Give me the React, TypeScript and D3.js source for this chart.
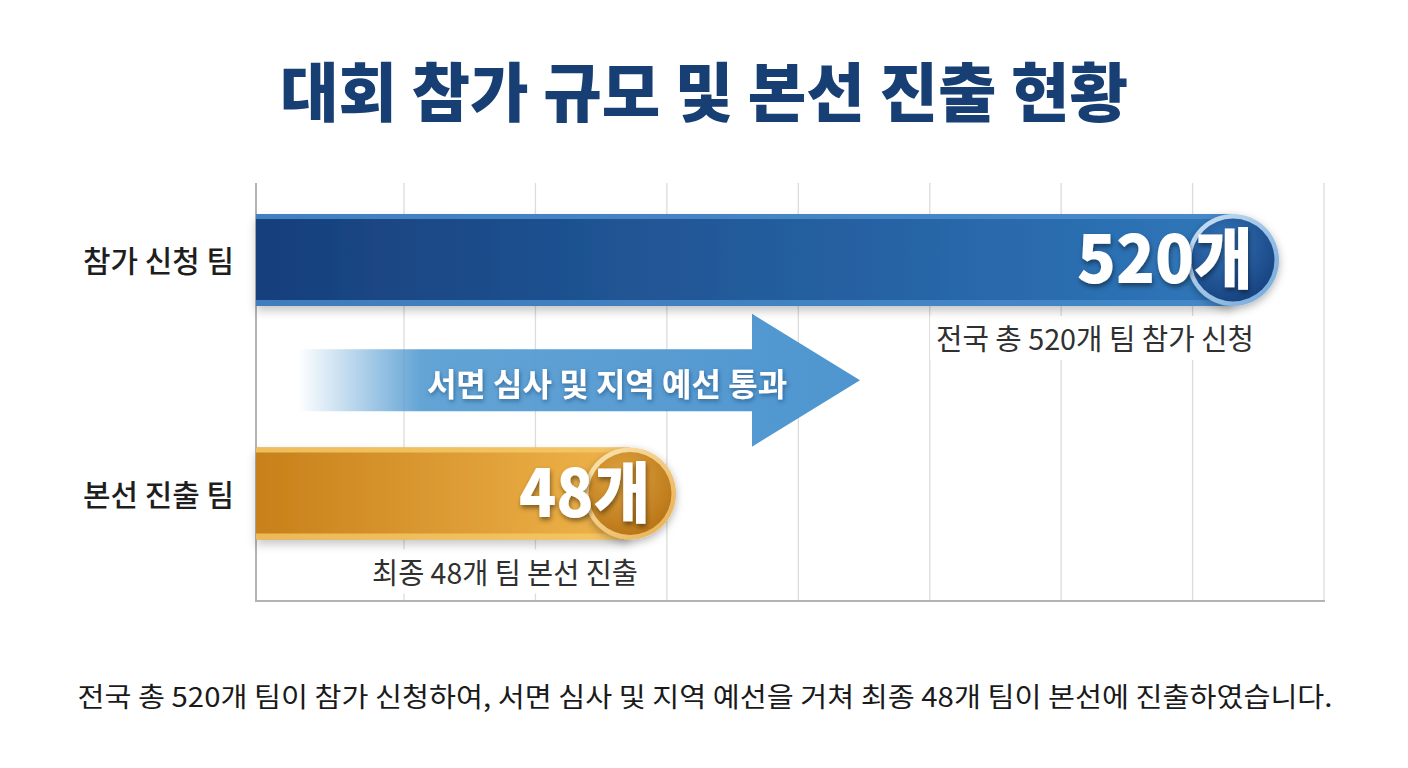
import React from "react";
import * as d3 from "d3";

const title = "대회 참가 규모 및 본선 진출 현황";
const categories = ["참가 신청 팀", "본선 진출 팀"];
const values = [520, 48];
const unit = "개";
const captions = ["전국 총 520개 팀 참가 신청", "최종 48개 팀 본선 진출"];
const stepLabel = "서면 심사 및 지역 예선 통과";
const footer =
  "전국 총 520개 팀이 참가 신청하여, 서면 심사 및 지역 예선을 거쳐 최종 48개 팀이 본선에 진출하였습니다.";
const gridTicks = [1, 2, 3, 4, 5, 6, 7, 8];

const W = 1408;
const H = 768;
const FONT = "'Noto Sans CJK KR', 'Noto Sans', sans-serif";

export default function App() {
  const x = d3.scalePow().exponent(0.403).domain([0, 520]).range([256, 1233]);
  const y = d3.scalePoint<string>().domain(categories).range([260, 493.5]);
  const grid = d3.scaleLinear().domain([0, 8]).range([272.6, 1324]);
  const barH = 92;
  const r = 46;
  const plotTop = 183;
  const plotBottom = 601;
  const x0 = x(0);

  const themes = [
    { id: "blue", c0: "#173f7c", c1: "#2f77ba", edge: "#4a8ccc", ringA: "#cfe3f5", ringB: "#6fa6d8", in0: "#3474b8", in1: "#16417f", capDx: 21, capW: 318, numW: 176 },
    { id: "gold", c0: "#c8801a", c1: "#f0b54c", edge: "#f5c867", ringA: "#fbe7b5", ringB: "#e7ae4f", in0: "#e0a43f", in1: "#b87416", capDx: 8, capW: 266, numW: 131 },
  ];

  // arrow geometry
  const aY = (y(categories[0])! + y(categories[1])!) / 2 + 3.5;
  const shaftHalf = 31;
  const headHalf = 66.5;
  const aStart = 298;
  const headX = 752;
  const tipX = 860;
  const arrowPath = d3.path();
  arrowPath.moveTo(aStart, aY - shaftHalf);
  arrowPath.lineTo(headX, aY - shaftHalf);
  arrowPath.lineTo(headX, aY - headHalf);
  arrowPath.lineTo(tipX, aY);
  arrowPath.lineTo(headX, aY + headHalf);
  arrowPath.lineTo(headX, aY + shaftHalf);
  arrowPath.lineTo(aStart, aY + shaftHalf);
  arrowPath.closePath();

  return (
    <svg width={W} height={H} style={{ position: "absolute", left: 0, top: 0, background: "#fff" }} fontFamily={FONT}>
      <defs>
        {themes.map((t) => (
          <React.Fragment key={t.id}>
            <linearGradient id={`bar-${t.id}`} x1="0" x2="1" y1="0" y2="0">
              <stop offset="0%" stopColor={t.c0} />
              <stop offset="100%" stopColor={t.c1} />
            </linearGradient>
            <radialGradient id={`in-${t.id}`} cx="40%" cy="30%" r="75%">
              <stop offset="0%" stopColor={t.in0} />
              <stop offset="100%" stopColor={t.in1} />
            </radialGradient>
            <linearGradient id={`ring-${t.id}`} x1="0" x2="1" y1="0" y2="1">
              <stop offset="0%" stopColor={t.ringA} />
              <stop offset="100%" stopColor={t.ringB} />
            </linearGradient>
          </React.Fragment>
        ))}
        <linearGradient id="arrowGrad" gradientUnits="userSpaceOnUse" x1={aStart} x2={tipX} y1="0" y2="0">
          <stop offset="0%" stopColor="#5b9fd3" stopOpacity="0" />
          <stop offset="22%" stopColor="#5b9fd3" stopOpacity="0.95" />
          <stop offset="100%" stopColor="#4e95cf" stopOpacity="1" />
        </linearGradient>
        <filter id="barShadow" x="-5%" y="-20%" width="110%" height="160%">
          <feDropShadow dx="0" dy="5" stdDeviation="5" floodColor="#000" floodOpacity="0.22" />
        </filter>
        <filter id="circShadow" x="-30%" y="-30%" width="160%" height="160%">
          <feDropShadow dx="0" dy="3" stdDeviation="4" floodColor="#000" floodOpacity="0.3" />
        </filter>
        <filter id="txtShadow" x="-10%" y="-20%" width="120%" height="150%">
          <feDropShadow dx="1" dy="3" stdDeviation="2.5" floodColor="#000" floodOpacity="0.45" />
        </filter>
        <filter id="txtShadowSoft" x="-10%" y="-20%" width="120%" height="150%">
          <feDropShadow dx="1" dy="2" stdDeviation="2" floodColor="#0b2f5a" floodOpacity="0.5" />
        </filter>
      </defs>

      {/* title */}
      <text x={W / 2} y={116} textAnchor="middle" fontSize={64} fontWeight={900} fill="#173f73"
        textLength={848} lengthAdjust="spacingAndGlyphs">{title}</text>

      {/* grid */}
      {gridTicks.map((t) => (
        <line key={t} x1={grid(t)} x2={grid(t)} y1={plotTop} y2={plotBottom} stroke="#dcdcdc" strokeWidth={1.3} />
      ))}
      <line x1={x0} x2={x0} y1={plotTop} y2={plotBottom + 1} stroke="#b3b3b3" strokeWidth={2} />
      <line x1={x0} x2={1325} y1={plotBottom} y2={plotBottom} stroke="#b3b3b3" strokeWidth={2} />

      {/* captions (with white backing) */}
      {categories.map((c, i) => {
        const t = themes[i];
        const cy = y(c)!;
        const xe = x(values[i]) + t.capDx;
        const by = cy + barH / 2 + 44;
        return (
          <g key={`cap-${c}`}>
            <rect x={xe - t.capW - 6} y={by - 34} width={t.capW + 12} height={44} fill="#fff" />
            <text x={xe} y={by} textAnchor="end" fontSize={29} fontWeight={400} fill="#303030"
              textLength={t.capW} lengthAdjust="spacingAndGlyphs">{captions[i]}</text>
          </g>
        );
      })}

      {/* arrow */}
      <path d={arrowPath.toString()} fill="url(#arrowGrad)" />
      <text x={607} y={aY + 16} textAnchor="middle" fontSize={32} fontWeight={700} fill="#fff" filter="url(#txtShadowSoft)">
        {stepLabel}
      </text>

      {/* bars */}
      {categories.map((c, i) => {
        const t = themes[i];
        const cy = y(c)!;
        const xe = x(values[i]);
        const top = cy - barH / 2;
        return (
          <g key={c}>
            <g filter="url(#barShadow)">
              <rect x={x0} y={top} width={xe - x0} height={barH} fill={`url(#bar-${t.id})`} />
            </g>
            <rect x={x0} y={top} width={xe - x0} height={5} fill={t.edge} opacity={0.85} />
            <rect x={x0} y={top + barH - 6} width={xe - x0} height={6} fill={t.edge} opacity={0.8} />
            <g filter="url(#circShadow)">
              <circle cx={xe} cy={cy} r={r} fill={`url(#ring-${t.id})`} />
            </g>
            <circle cx={xe} cy={cy} r={r - 4.5} fill={`url(#in-${t.id})`} />
            <text x={xe + 20} y={cy + 23} textAnchor="end" fontSize={66} fontWeight={900} fill="#fff"
              filter="url(#txtShadow)" textLength={t.numW} lengthAdjust="spacingAndGlyphs">
              {values[i]}{unit}
            </text>
            <text x={234} y={cy + 12} textAnchor="end" fontSize={30} fontWeight={500} fill="#1e1e1e"
              textLength={151} lengthAdjust="spacingAndGlyphs">{c}</text>
          </g>
        );
      })}

      {/* footer */}
      <text x={W / 2 + 1} y={707} textAnchor="middle" fontSize={27} fontWeight={400} fill="#1a1a1a"
        textLength={1255} lengthAdjust="spacingAndGlyphs">{footer}</text>
    </svg>
  );
}
